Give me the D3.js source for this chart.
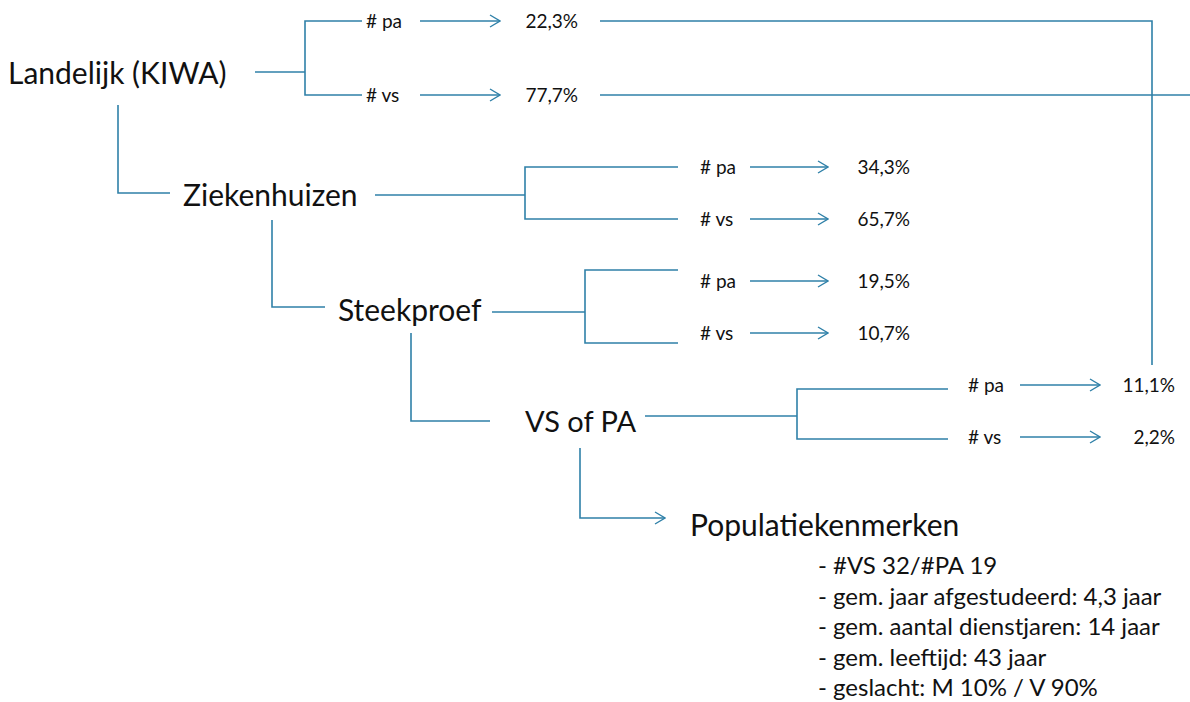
<!DOCTYPE html>
<html>
<head>
<meta charset="utf-8">
<script src="https://cdn.jsdelivr.net/npm/d3@7"></script>
<style>
  body { margin: 0; background: #fff; }
  svg { display: block; }
  text { font-family: Lato, "Noto Sans", sans-serif; fill: #111; }
</style>
</head>
<body>
<div id="chart"></div>
<script>
// Data
const levels = ["Landelijk (KIWA)", "Ziekenhuizen", "Steekproef", "VS of PA"];
const splitLabels = ["# pa", "# vs"];
const paValues = ["22,3%", "34,3%", "19,5%", "11,1%"];
const vsValues = ["77,7%", "65,7%", "10,7%", "2,2%"];
const profileTitle = "Populatiekenmerken";
const profileItems = [
    "- #VS 32/#PA 19",
    "- gem. jaar afgestudeerd: 4,3 jaar",
    "- gem. aantal dienstjaren: 14 jaar",
    "- gem. leeftijd: 43 jaar",
    "- geslacht: M 10% / V 90%"
];

// Layout of each level (kept apart from the data)
const layout = [
    { tx: 8,   ty: 73,  c1: 255, c2: 305, cy: 72,  bx: 305, top: 21,  bot: 95,  lend: 362, lx: 366, ltop: 21,  lbot: 95,  a1: 420, a2: 500, vx: 578 },
    { tx: 183, ty: 195, c1: 375, c2: 525, cy: 195, bx: 525, top: 167, bot: 219, lend: 678, lx: 700, ltop: 167, lbot: 219, a1: 750, a2: 828, vx: 910 },
    { tx: 338, ty: 310, c1: 492, c2: 585, cy: 312, bx: 585, top: 270, bot: 343, lend: 678, lx: 700, ltop: 281, lbot: 333, a1: 750, a2: 828, vx: 910 },
    { tx: 525, ty: 422, c1: 645, c2: 797, cy: 416, bx: 797, top: 389, bot: 439, lend: 948, lx: 968, ltop: 385, lbot: 437, a1: 1020, a2: 1100, vx: 1175 }
];
// elbow links from each level down to the next one: [x, yStart, yEnd, xEnd]
const links = [
    [118, 105, 193, 170],
    [272, 220, 307, 325],
    [411, 333, 421, 490]
];

const width = 1190, height = 702;
const lineColor = "#2f80a8";

const svg = d3.select("#chart")
    .append("svg")
    .attr("width", width)
    .attr("height", height);

// open arrow head
svg.append("defs").append("marker")
    .attr("id", "arrow")
    .attr("viewBox", "0 0 12 14")
    .attr("refX", 11)
    .attr("refY", 7)
    .attr("markerUnits", "userSpaceOnUse")
    .attr("markerWidth", 12)
    .attr("markerHeight", 14)
    .attr("orient", "auto")
    .append("path")
    .attr("d", "M1,1 L11,7 L1,13")
    .attr("fill", "none")
    .attr("stroke", lineColor)
    .attr("stroke-width", 1.4);

const line = d3.line();

function drawPath(points, withArrow) {
    const p = svg.append("path")
        .attr("d", line(points))
        .attr("fill", "none")
        .attr("stroke", lineColor)
        .attr("stroke-width", 1.6);
    if (withArrow) p.attr("marker-end", "url(#arrow)");
    return p;
}

levels.forEach((name, i) => {
    const L = layout[i];

    svg.append("text")
        .attr("x", L.tx)
        .attr("y", L.ty)
        .attr("dy", "0.35em")
        .attr("font-size", i === 3 ? 29 : 30)
        .text(name);

    // connector + bracket
    drawPath([[L.c1, L.cy], [L.c2, L.cy]]);
    drawPath([[L.lend, L.top], [L.bx, L.top], [L.bx, L.bot], [L.lend, L.bot]]);

    const rows = [
        { label: splitLabels[0], value: paValues[i], y: L.ltop },
        { label: splitLabels[1], value: vsValues[i], y: L.lbot }
    ];
    rows.forEach(r => {
        svg.append("text")
            .attr("x", L.lx)
            .attr("y", r.y)
            .attr("dy", "0.35em")
            .attr("font-size", 19)
            .text(r.label);
        drawPath([[L.a1, r.y], [L.a2, r.y]], true);
        svg.append("text")
            .attr("x", L.vx)
            .attr("y", r.y)
            .attr("dy", "0.35em")
            .attr("font-size", 19)
            .attr("text-anchor", "end")
            .text(r.value);
    });
});

// links between levels
links.forEach(l => drawPath([[l[0], l[1]], [l[0], l[2]], [l[3], l[2]]]));

// national pa / vs lines running to the right
drawPath([[600, 21], [1152, 21], [1152, 365]]);
drawPath([[600, 95], [1190, 95]]);

// population characteristics
drawPath([[580, 448], [580, 518], [665, 518]], true);
svg.append("text")
    .attr("x", 690)
    .attr("y", 525)
    .attr("dy", "0.35em")
    .attr("font-size", 30)
    .text(profileTitle);

const itemY = d3.scalePoint()
    .domain(profileItems)
    .range([566, 688]);

svg.selectAll(".item")
    .data(profileItems)
    .enter()
    .append("text")
    .attr("class", "item")
    .attr("x", 818)
    .attr("y", d => itemY(d))
    .attr("dy", "0.35em")
    .attr("font-size", 24)
    .text(d => d);
</script>
</body>
</html>
